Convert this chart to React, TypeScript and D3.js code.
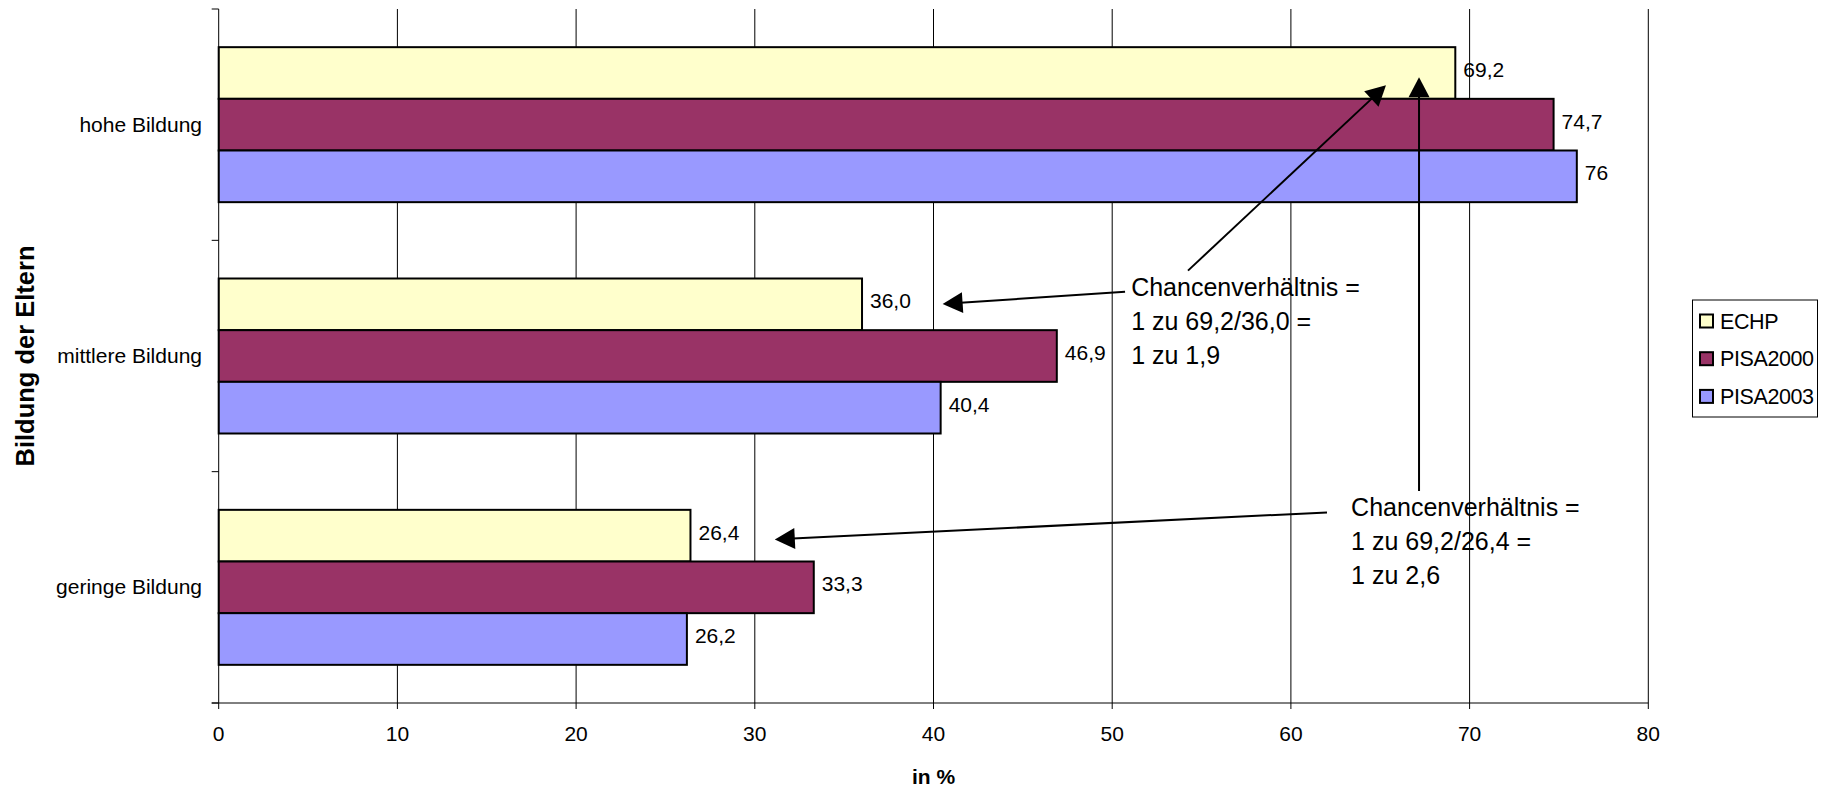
import React from "react";
import * as d3 from "d3";

// Anteil (in %) nach Bildung der Eltern
const categories = ["hohe Bildung", "mittlere Bildung", "geringe Bildung"];
const seriesNames = ["ECHP", "PISA2000", "PISA2003"];
const echp = [69.2, 36.0, 26.4];
const pisa2000 = [74.7, 46.9, 33.3];
const pisa2003 = [76, 40.4, 26.2];
const seriesValues = [echp, pisa2000, pisa2003];
const seriesDecimals = [1, -1, -1];
const seriesColors = ["#FFFFCC", "#993366", "#9999FF"];
const xTicks = [0, 10, 20, 30, 40, 50, 60, 70, 80];

// Annotations in data units: x in %, y in category slots (0 = top of axis, 3 = bottom)
const noteTexts = [
  ["Chancenverhältnis =", "1 zu 69,2/36,0 =", "1 zu 1,9"],
  ["Chancenverhältnis =", "1 zu 69,2/26,4 =", "1 zu 2,6"],
];
const noteAnchors = [
  [51.06, 1.239],
  [63.37, 2.19],
];
const arrowStarts = [
  [54.24, 1.131],
  [67.17, 2.084],
  [50.72, 1.222],
  [62.02, 2.176],
];
const arrowTips = [
  [65.32, 0.33],
  [67.17, 0.295],
  [40.51, 1.275],
  [31.12, 2.293],
];

const W = 1827;
const H = 789;
const left = 218.7;
const right = 1648.3;
const top = 9;
const bottom = 703;
const FONT = "'Liberation Sans', Arial, Helvetica, sans-serif";

const fmt = (v: number, d: number) =>
  (d >= 0 ? v.toFixed(d) : String(v)).replace(".", ",");

export default function App() {
  const x = d3.scaleLinear().domain([0, 80]).range([left, right]);
  const y = d3
    .scaleBand<string>()
    .domain(categories)
    .range([top, bottom])
    .paddingInner(0.33)
    .paddingOuter(0.165);
  const ySub = d3
    .scaleBand<string>()
    .domain(seriesNames)
    .range([0, y.bandwidth()]);
  const ySlot = d3.scaleLinear().domain([0, 3]).range([top, bottom]);
  const catTicks = d3.range(0, 4).map((i) => ySlot(i));

  const arrowHead = (sx: number, sy: number, tx: number, ty: number) => {
    const ang = Math.atan2(ty - sy, tx - sx);
    const len = 20;
    const half = 10.5;
    const bx = tx - len * Math.cos(ang);
    const by = ty - len * Math.sin(ang);
    const px = -Math.sin(ang) * half;
    const py = Math.cos(ang) * half;
    return `M${tx},${ty}L${bx + px},${by + py}L${bx - px},${by - py}Z`;
  };

  return (
    <svg
      width={W}
      height={H}
      style={{ position: "absolute", left: 0, top: 0, background: "#fff" }}
      fontFamily={FONT}
    >
      <rect x={0} y={0} width={W} height={H} fill="#fff" />

      {/* vertical gridlines */}
      {xTicks.slice(1).map((t) => (
        <line
          key={"g" + t}
          x1={x(t)}
          x2={x(t)}
          y1={top}
          y2={bottom}
          stroke="#000"
          strokeWidth={1}
        />
      ))}

      {/* bars */}
      {categories.map((c, ci) => (
        <g key={c} transform={`translate(0,${y(c)})`}>
          {seriesNames.map((s, si) => {
            const v = seriesValues[si][ci];
            const by = ySub(s) as number;
            const bh = ySub.bandwidth();
            return (
              <g key={s}>
                <rect
                  x={x(0)}
                  y={by}
                  width={x(v) - x(0)}
                  height={bh}
                  fill={seriesColors[si]}
                  stroke="#000"
                  strokeWidth={2}
                />
                <text
                  x={x(v) + 8}
                  y={by + bh / 2 + 4}
                  fontSize={21}
                  fill="#000"
                >
                  {fmt(v, seriesDecimals[si])}
                </text>
              </g>
            );
          })}
        </g>
      ))}

      {/* category axis */}
      <line x1={left} x2={left} y1={top} y2={bottom} stroke="#000" strokeWidth={1} />
      {catTicks.map((t, i) => (
        <line key={"ct" + i} x1={left - 7} x2={left} y1={t} y2={t} stroke="#000" strokeWidth={1} />
      ))}
      {categories.map((c) => (
        <text
          key={"cl" + c}
          x={202}
          y={(y(c) as number) + y.bandwidth() / 2 + 7}
          textAnchor="end"
          fontSize={21}
          fill="#000"
        >
          {c}
        </text>
      ))}

      {/* value axis */}
      <line x1={left - 7} x2={right} y1={bottom} y2={bottom} stroke="#000" strokeWidth={1} />
      {xTicks.map((t) => (
        <g key={"xt" + t}>
          <line x1={x(t)} x2={x(t)} y1={bottom} y2={bottom + 6} stroke="#000" strokeWidth={1} />
          <text x={x(t)} y={741} textAnchor="middle" fontSize={21} fill="#000">
            {t}
          </text>
        </g>
      ))}

      {/* axis titles */}
      <text
        x={(left + right) / 2}
        y={784}
        textAnchor="middle"
        fontSize={21}
        fontWeight="bold"
        fill="#000"
      >
        in %
      </text>
      <text
        transform={`translate(34,${(top + bottom) / 2}) rotate(-90)`}
        textAnchor="middle"
        fontSize={25.5}
        fontWeight="bold"
        fill="#000"
      >
        Bildung der Eltern
      </text>

      {/* legend */}
      <rect x={1692.5} y={300} width={125} height={117} fill="#fff" stroke="#000" strokeWidth={1} />
      {seriesNames.map((s, i) => {
        const cy = 321 + i * 37.7;
        return (
          <g key={"lg" + s}>
            <rect
              x={1700}
              y={cy - 6.5}
              width={13}
              height={13}
              fill={seriesColors[i]}
              stroke="#000"
              strokeWidth={2}
            />
            <text x={1720} y={cy + 7.5} fontSize={21.5} fill="#000" letterSpacing={-0.4}>
              {s}
            </text>
          </g>
        );
      })}

      {/* annotations */}
      {arrowStarts.map((st, i) => {
        const sx = x(st[0]);
        const sy = ySlot(st[1]);
        const tx = x(arrowTips[i][0]);
        const ty = ySlot(arrowTips[i][1]);
        const ang = Math.atan2(ty - sy, tx - sx);
        const ex = tx - 18 * Math.cos(ang);
        const ey = ty - 18 * Math.sin(ang);
        return (
          <g key={"ar" + i}>
            <line x1={sx} y1={sy} x2={ex} y2={ey} stroke="#000" strokeWidth={2} />
            <path d={arrowHead(sx, sy, tx, ty)} fill="#000" />
          </g>
        );
      })}
      {noteTexts.map((lines, i) => (
        <text
          key={"nt" + i}
          x={x(noteAnchors[i][0])}
          y={ySlot(noteAnchors[i][1])}
          fontSize={25}
          fill="#000"
        >
          {lines.map((l, li) => (
            <tspan key={li} x={x(noteAnchors[i][0])} dy={li === 0 ? 0 : 34}>
              {l}
            </tspan>
          ))}
        </text>
      ))}
    </svg>
  );
}
